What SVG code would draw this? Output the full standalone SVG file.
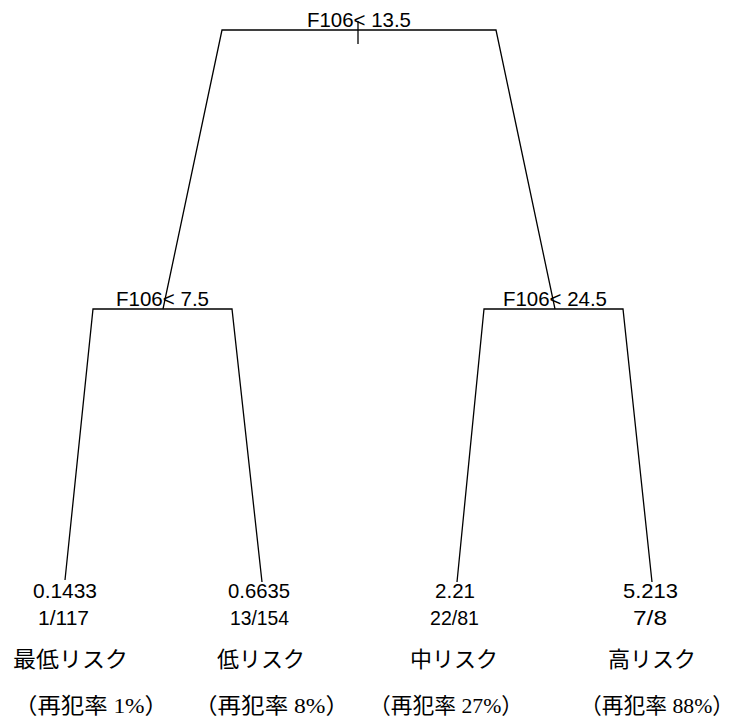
<svg xmlns="http://www.w3.org/2000/svg" width="755" height="718" viewBox="0 0 755 718">
<style>
  .bg { fill: #ffffff; }
  .ln { fill: none; stroke: #000000; stroke-width: 1.3; }
  .num { font-family: "Liberation Sans", "DejaVu Sans", sans-serif; font-size: 21px; fill: #000000; }
  .lab { font-family: "Liberation Serif", "Noto Sans CJK JP", serif; font-size: 22px; fill: #000000; }
</style>
<rect class="bg" x="0" y="0" width="755" height="718"/>
<g id="connectors">
  <path class="ln" d="M163,309 L222,30 L496,30 L555,309"/>
  <path class="ln" d="M358,21 L358,44"/>
  <path class="ln" d="M65,580 L93,309 L232,309 L262,582"/>
  <path class="ln" d="M457,582 L484,309 L623,309 L652,582"/>
</g>
<g id="node-root">
  <text class="num" x="307" y="27" textLength="104" lengthAdjust="spacingAndGlyphs">F106&lt; 13.5</text>
</g>
<g id="node-left">
  <text class="num" x="116" y="306" textLength="93" lengthAdjust="spacingAndGlyphs">F106&lt;  7.5</text>
</g>
<g id="node-right">
  <text class="num" x="503" y="306" textLength="104" lengthAdjust="spacingAndGlyphs">F106&lt; 24.5</text>
</g>
<g id="leaf-1">
  <text class="num" x="33" y="598" textLength="64" lengthAdjust="spacingAndGlyphs">0.1433</text>
  <text class="num" x="38" y="625" textLength="51" lengthAdjust="spacingAndGlyphs">1/117</text>
  <text class="lab" x="13" y="667" textLength="115" lengthAdjust="spacingAndGlyphs">最低リスク</text>
  <text class="lab" x="14" y="713" textLength="154" lengthAdjust="spacingAndGlyphs">（再犯率 1%）</text>
</g>
<g id="leaf-2">
  <text class="num" x="228" y="598" textLength="62" lengthAdjust="spacingAndGlyphs">0.6635</text>
  <text class="num" x="230" y="625" textLength="59" lengthAdjust="spacingAndGlyphs">13/154</text>
  <text class="lab" x="217" y="667" textLength="88" lengthAdjust="spacingAndGlyphs">低リスク</text>
  <text class="lab" x="194" y="713" textLength="155" lengthAdjust="spacingAndGlyphs">（再犯率 8%）</text>
</g>
<g id="leaf-3">
  <text class="num" x="435" y="598" textLength="40" lengthAdjust="spacingAndGlyphs">2.21</text>
  <text class="num" x="430" y="625" textLength="49" lengthAdjust="spacingAndGlyphs">22/81</text>
  <text class="lab" x="410" y="667" textLength="88" lengthAdjust="spacingAndGlyphs">中リスク</text>
  <text class="lab" x="369" y="713" textLength="154" lengthAdjust="spacingAndGlyphs">（再犯率 27%）</text>
</g>
<g id="leaf-4">
  <text class="num" x="623" y="598" textLength="55" lengthAdjust="spacingAndGlyphs">5.213</text>
  <text class="num" x="633" y="625" textLength="34" lengthAdjust="spacingAndGlyphs">7/8</text>
  <text class="lab" x="608" y="667" textLength="88" lengthAdjust="spacingAndGlyphs">高リスク</text>
  <text class="lab" x="580" y="713" textLength="154" lengthAdjust="spacingAndGlyphs">（再犯率 88%）</text>
</g>
</svg>
